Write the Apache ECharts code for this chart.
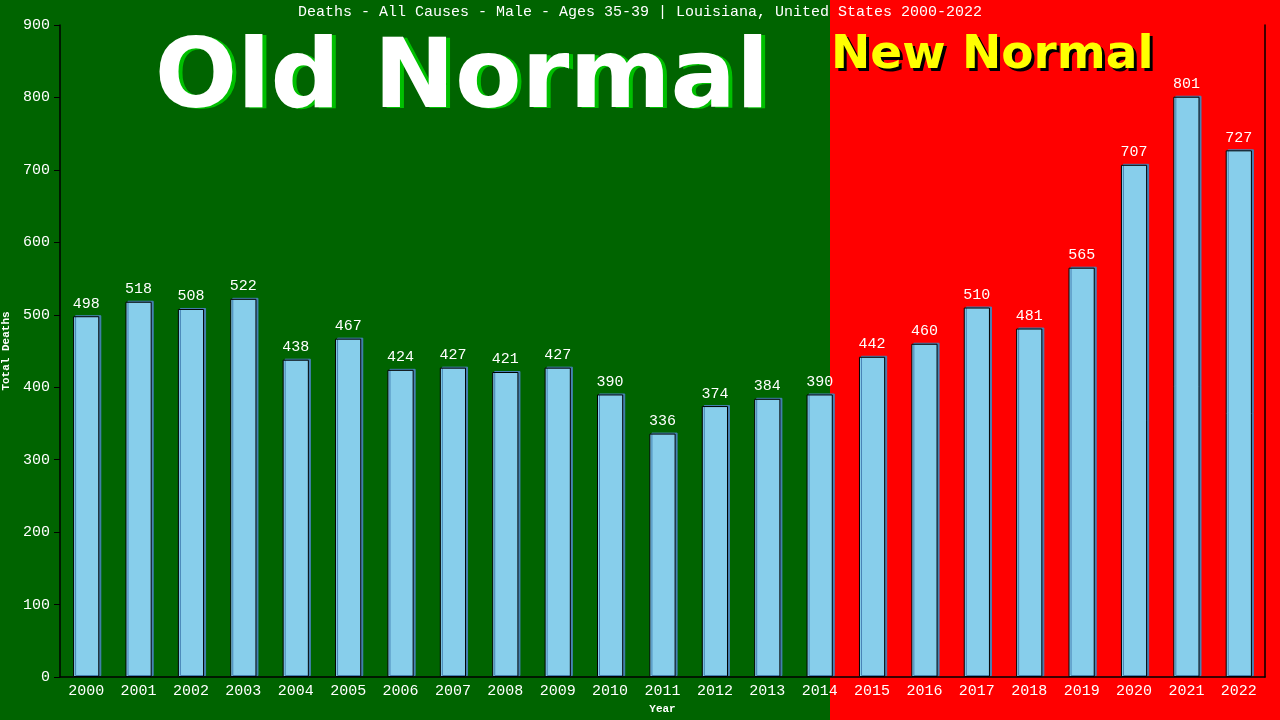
<!DOCTYPE html>
<html><head><meta charset="utf-8">
<script src="https://cdn.jsdelivr.net/npm/echarts@6/dist/echarts.min.js"></script>
<style>html,body{margin:0;padding:0;background:#006400;}#c{width:1280px;height:720px;}</style>
</head><body><div id="c"></div>
<script>
const years = ['2000','2001','2002','2003','2004','2005','2006','2007','2008','2009','2010','2011','2012','2013','2014','2015','2016','2017','2018','2019','2020','2021','2022'];
const deaths = [498,518,508,522,438,467,424,427,421,427,390,336,374,384,390,442,460,510,481,565,707,801,727];
const yTicks = {min:0, max:900, interval:100};
const titleText = 'Deaths - All Causes - Male - Ages 35-39 | Louisiana, United States 2000-2022';
const mono = '"Liberation Mono", "DejaVu Sans Mono", monospace';
const bigFont = '"DejaVu Sans", Verdana, sans-serif';

const chart = echarts.init(document.getElementById('c'));
chart.setOption({
  backgroundColor: '#006400',
  animation: false,
  title: {text: titleText, left: 'center', top: 0,
    textStyle: {color:'#fff', fontFamily: mono, fontSize: 15, fontWeight: 'normal'}},
  graphic: [
    {type:'rect', z:-10, silent:true, shape:{x:830, y:0, width:450, height:720}, style:{fill:'#ff0000'}},
    {type:'text', z:-5, x:466, y:83, style:{text:'Old Normal', fill:'#00c000', font:'bold 97px ' + bigFont, align:'center', verticalAlign:'middle'}},
    {type:'text', z:-4, x:462, y:82, style:{text:'Old Normal', fill:'#ffffff', font:'bold 97px ' + bigFont, align:'center', verticalAlign:'middle'}},
    {type:'text', z:-5, x:834, y:59, style:{text:'New Normal', fill:'#000000', font:'bold 47px ' + bigFont, align:'left', verticalAlign:'middle'}},
    {type:'text', z:-4, x:831, y:56, style:{text:'New Normal', fill:'#ffff00', font:'bold 47px ' + bigFont, align:'left', verticalAlign:'middle'}}
  ],
  grid: {left:60, right:15, top:25, bottom:43, containLabel:false, outerBoundsMode:'none'},
  xAxis: {type:'category', data: years,
    name:'Year', nameLocation:'middle', nameGap:27,
    nameTextStyle:{color:'#fff', fontFamily:mono, fontSize:11, fontWeight:'bold'},
    axisLine:{show:true, lineStyle:{color:'#000', width:1.5}},
    axisTick:{show:false},
    axisLabel:{color:'#fff', fontFamily:mono, fontSize:15, margin:7}},
  yAxis: [{type:'value', min:yTicks.min, max:yTicks.max, interval:yTicks.interval,
    name:'Total Deaths', nameLocation:'middle', nameGap:47,
    nameTextStyle:{color:'#fff', fontFamily:mono, fontSize:11, fontWeight:'bold'},
    axisLine:{show:true, lineStyle:{color:'#000', width:1.5}},
    axisTick:{show:true, length:6, lineStyle:{color:'#000'}},
    splitLine:{show:false},
    axisLabel:{color:'#fff', fontFamily:mono, fontSize:15, margin:10}},
   {type:'value', min:yTicks.min, max:yTicks.max, interval:yTicks.interval, position:'right',
    axisLine:{show:true, lineStyle:{color:'#000', width:1.5}},
    axisTick:{show:false}, axisLabel:{show:false}, splitLine:{show:false}}],
  series: [{type:'bar', data: deaths, barWidth:'50%',
    itemStyle:{color:'#87ceeb', borderColor:'#000', borderWidth:1,
      shadowColor:'#4682b4', shadowOffsetX:2, shadowOffsetY:-1, shadowBlur:0},
    label:{show:true, position:'top', distance:5, color:'#fff', fontFamily:mono, fontSize:15}}]
});
</script></body></html>
